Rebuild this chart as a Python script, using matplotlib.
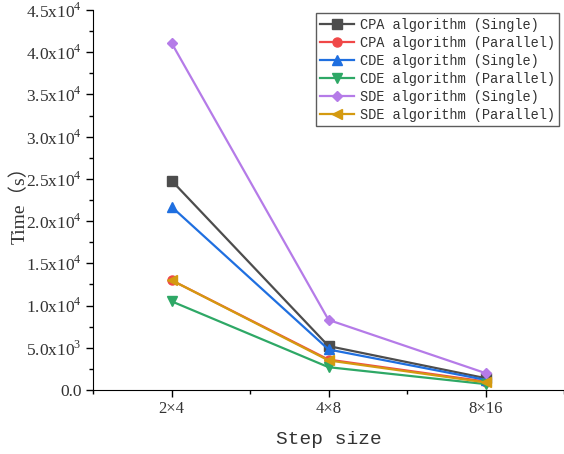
import numpy as np
import matplotlib.pyplot as plt
from matplotlib.ticker import FuncFormatter, MultipleLocator

plt.rcParams['mathtext.fontset'] = 'custom'
plt.rcParams['mathtext.rm'] = 'Liberation Serif'
plt.rcParams['text.color'] = '#333333'
plt.rcParams['axes.labelcolor'] = '#333333'
plt.rcParams['xtick.labelcolor'] = '#333333'
plt.rcParams['ytick.labelcolor'] = '#333333'

# data
steps = ['2×4', '4×8', '8×16']
cpa_single = [24800, 5200, 1400]
cpa_parallel = [13000, 3600, 1000]
cde_single = [21700, 4800, 1200]
cde_parallel = [10500, 2700, 700]
sde_single = [41100, 8300, 2000]
sde_parallel = [13000, 3500, 900]

series = [
    ('CPA algorithm (Single)', cpa_single, '#4d4d4d', 's'),
    ('CPA algorithm (Parallel)', cpa_parallel, '#f04848', 'o'),
    ('CDE algorithm (Single)', cde_single, '#1f6fe0', '^'),
    ('CDE algorithm (Parallel)', cde_parallel, '#2ea866', 'v'),
    ('SDE algorithm (Single)', sde_single, '#b57be8', 'D'),
    ('SDE algorithm (Parallel)', sde_parallel, '#d49a10', '<'),
]

fig = plt.figure(figsize=(5.64, 4.54), dpi=100)
ax = fig.add_axes([0.165, 0.141, 0.835, 0.837])

x = np.arange(len(steps))
for name, vals, c, m in series:
    ms = 5.5 if m == 'D' else 6.5
    ax.plot(x, vals, color=c, marker=m, markersize=ms, linewidth=1.6, label=name)

ax.set_xlim(-0.5, 2.5)
ax.set_ylim(0, 45000)
ax.set_xticks(x)
ax.set_xticklabels(steps, family='Liberation Serif', fontsize=12)
ax.xaxis.set_minor_locator(MultipleLocator(0.5))
ax.yaxis.set_major_locator(MultipleLocator(5000))
ax.yaxis.set_minor_locator(MultipleLocator(2500))


def fmt(v, pos):
    if v <= 0:
        return '0.0'
    e = int(np.floor(np.log10(v)))
    return '%.1fx10$^{%d}$' % (v / 10 ** e, e)


ax.yaxis.set_major_formatter(FuncFormatter(fmt))
for lab in ax.get_yticklabels():
    lab.set_family('Liberation Serif')
    lab.set_fontsize(12.5)

ax.spines['top'].set_visible(False)
ax.spines['right'].set_visible(False)
ax.tick_params(which='major', direction='out', length=5, width=1, pad=3)
ax.tick_params(which='minor', direction='out', length=3, width=1)

ax.set_xlabel('Step size', family='Liberation Mono', fontsize=14, labelpad=10)
ax.set_ylabel('Time（s）', family=['Liberation Serif', 'Noto Sans CJK SC'], fontsize=14, labelpad=-2)

leg = ax.legend(loc='upper right', bbox_to_anchor=(0.995, 0.998), prop={'family': 'Liberation Mono', 'size': 9.8},
                frameon=True, fancybox=False, edgecolor='#333333', handlelength=2.5,
                borderpad=0.3, labelspacing=0.3, handletextpad=0.4, borderaxespad=0.2)
leg.get_frame().set_linewidth(1.0)

fig.savefig('out.png', dpi=100)
